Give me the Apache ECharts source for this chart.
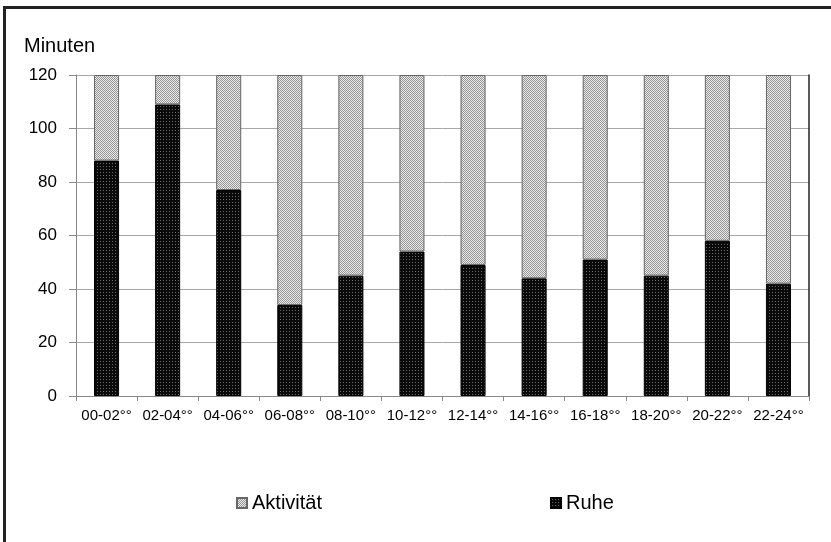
<!DOCTYPE html>
<html>
<head>
<meta charset="utf-8">
<script src="https://cdn.jsdelivr.net/npm/echarts@6/dist/echarts.min.js"></script>
<style>html,body{margin:0;padding:0;background:#fff}#c{width:831px;height:542px}</style>
</head>
<body>
<div id="c"></div>
<script>
var categories = ['00-02°°','02-04°°','04-06°°','06-08°°','08-10°°','10-12°°','12-14°°','14-16°°','16-18°°','18-20°°','20-22°°','22-24°°'];
var ruhe = [88,109,77,34,45,54,49,44,51,45,58,42];
var aktivitaet = [32,11,43,86,75,66,71,76,69,75,62,78];
var yTicks = [0,20,40,60,80,100,120];

function makePattern(bg, dot) {
  var c = document.createElement('canvas');
  c.width = 3; c.height = 3;
  var g = c.getContext('2d');
  g.fillStyle = bg; g.fillRect(0,0,3,3);
  g.fillStyle = dot; g.fillRect(1,1,1,1);
  return {image: c, repeat: 'repeat'};
}
function makeLight() {
  var c = document.createElement('canvas');
  c.width = 2; c.height = 2;
  var g = c.getContext('2d');
  g.fillStyle = '#ececec'; g.fillRect(0,0,2,2);
  g.fillStyle = '#949494'; g.fillRect(0,0,1,1); g.fillRect(1,1,1,1);
  return {image: c, repeat: 'repeat'};
}
var lightPat = makeLight();
var darkPat = makePattern('#0a0a0a', '#6a6a6a');

var font = "'Liberation Sans', Arial, sans-serif";
var chart = echarts.init(document.getElementById('c'));
chart.setOption({
  animation: false,
  backgroundColor: '#fff',
  textStyle: {fontFamily: font},
  title: {text: 'Minuten', left: 24, top: 36, padding: 0,
    textStyle: {fontFamily: font, fontSize: 20, fontWeight: 'normal', color: '#000'}},
  graphic: [{type: 'rect', shape: {x: 4.5, y: 7.5, width: 1000, height: 800},
    style: {fill: 'none', stroke: '#222', lineWidth: 3}, silent: true}],
  grid: {left: 76, right: 22, top: 75, bottom: 146},
  legend: {
    data: ['Aktivität', 'Ruhe'], left: 236, top: 493, padding: 0,
    itemWidth: 10, itemHeight: 10, itemGap: 228, icon: 'rect',
    textStyle: {fontFamily: font, fontSize: 20, color: '#000'}
  },
  xAxis: {
    type: 'category', data: categories,
    axisLine: {lineStyle: {color: '#888'}},
    axisTick: {show: true, length: 5, lineStyle: {color: '#888'}},
    axisLabel: {color: '#000', fontSize: 15, margin: 12, fontFamily: font, interval: 0}
  },
  yAxis: [{
    type: 'value', min: 0, max: 120, interval: 20,
    axisLine: {show: true, lineStyle: {color: '#888'}},
    axisTick: {show: true, length: 7, lineStyle: {color: '#888'}},
    splitLine: {lineStyle: {color: '#a8a8a8'}},
    axisLabel: {color: '#000', fontSize: 17, margin: 19, fontFamily: font,
      formatter: function(v){ return yTicks.indexOf(v) >= 0 ? String(v) : ''; }}
  }, {
    type: 'value', min: 0, max: 120, interval: 20, position: 'right',
    axisLine: {show: true, lineStyle: {color: '#222', width: 1.5}},
    axisTick: {show: false}, axisLabel: {show: false}, splitLine: {show: false}
  }],
  series: [{
    name: 'Ruhe', type: 'bar', stack: 's', data: ruhe, barWidth: '41%',
    itemStyle: {color: darkPat, borderColor: '#000', borderWidth: 1}
  }, {
    name: 'Aktivität', type: 'bar', stack: 's', data: aktivitaet, barWidth: '41%',
    itemStyle: {color: lightPat, borderColor: '#666', borderWidth: 1}
  }]
});
</script>
</body>
</html>
